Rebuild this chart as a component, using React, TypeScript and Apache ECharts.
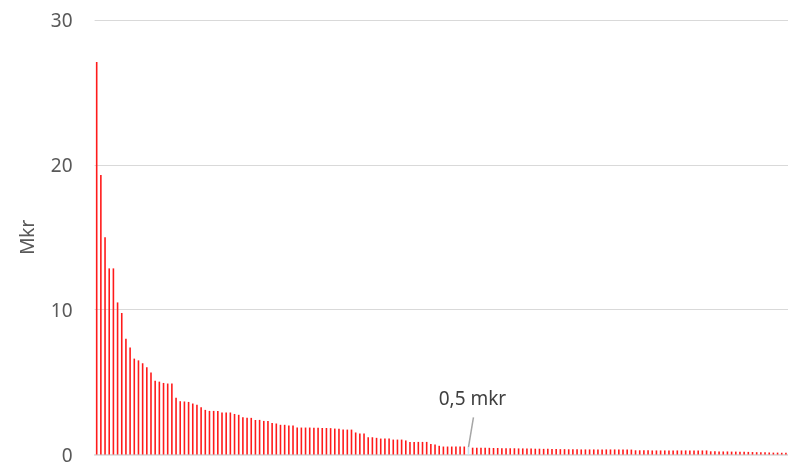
import React, { useEffect, useRef } from "react";
import * as echarts from "echarts";

const values: number[] = [
  27.1, 19.3, 15.0, 12.85, 12.85, 10.5, 9.77, 8.0, 7.38, 6.62,
  6.5, 6.3, 6.02, 5.66, 5.1, 5.03, 4.94, 4.9, 4.9, 3.91,
  3.68, 3.66, 3.63, 3.52, 3.43, 3.27, 3.08, 3.01, 3.01, 3.01,
  2.9, 2.9, 2.9, 2.8, 2.74, 2.57, 2.53, 2.53, 2.39, 2.39,
  2.32, 2.32, 2.18, 2.14, 2.05, 2.05, 2.0, 2.0, 1.86, 1.86,
  1.86, 1.86, 1.84, 1.84, 1.83, 1.83, 1.82, 1.79, 1.77, 1.72,
  1.72, 1.72, 1.52, 1.45, 1.45, 1.19, 1.19, 1.15, 1.1, 1.1,
  1.1, 1.03, 1.03, 1.03, 0.97, 0.87, 0.87, 0.87, 0.87, 0.87,
  0.72, 0.69, 0.6, 0.55, 0.55, 0.55, 0.55, 0.55, 0.55, 0.5,
  0.47, 0.47, 0.46, 0.46, 0.46, 0.45, 0.45, 0.44, 0.44, 0.43,
  0.43, 0.42, 0.42, 0.41, 0.41, 0.4, 0.4, 0.39, 0.39, 0.38,
  0.38, 0.37, 0.37, 0.36, 0.36, 0.36, 0.35, 0.35, 0.35, 0.35,
  0.35, 0.35, 0.35, 0.35, 0.35, 0.34, 0.34, 0.34, 0.34, 0.29,
  0.29, 0.29, 0.29, 0.28, 0.28, 0.28, 0.28, 0.28, 0.28, 0.28,
  0.28, 0.28, 0.28, 0.28, 0.28, 0.28, 0.28, 0.22, 0.22, 0.21,
  0.21, 0.21, 0.2, 0.2, 0.19, 0.19, 0.18, 0.17, 0.16, 0.16,
  0.15, 0.14, 0.13, 0.13, 0.12, 0.12,
];
const categories: string[] = values.map((_, i) => String(i + 1));
const yTicks = { min: 0, max: 30, interval: 10 };
const yName = "Mkr";
const annotationIndex = 89;
const annotationText = "0,5 mkr";

const FONT = '"Noto Sans", "Open Sans", sans-serif';

export default function App() {
  const ref = useRef<HTMLDivElement>(null);
  useEffect(() => {
    if (!ref.current) return;
    const chart = echarts.init(ref.current, undefined, { renderer: "svg" });
    const data = values.map((v, i) =>
      i === annotationIndex
        ? { value: v, itemStyle: { color: "#cfe0f0" } }
        : v
    );
    chart.setOption({
      animation: false,
      grid: { left: 94.6, right: 0, top: 20, bottom: 9, containLabel: false },
      xAxis: {
        type: "category",
        data: categories,
        axisLabel: { show: false },
        axisTick: { show: false },
        axisLine: { lineStyle: { color: "#d9d9d9", width: 1.5 } },
      },
      yAxis: {
        type: "value",
        min: yTicks.min,
        max: yTicks.max,
        interval: yTicks.interval,
        name: yName,
        nameLocation: "middle",
        nameGap: 58,
        nameTextStyle: { fontFamily: FONT, fontSize: 19, color: "#595959" },
        axisLabel: {
          fontFamily: FONT,
          fontSize: 19,
          lineHeight: 16,
          color: "#595959",
          margin: 22,
        },
        axisLine: { show: false },
        axisTick: { show: false },
        splitLine: { lineStyle: { color: "#d9d9d9", width: 1 } },
      },
      series: [
        {
          type: "bar",
          data,
          barWidth: 1.6,
          itemStyle: { color: "#ff1a1a" },
        },
      ],
    });
    const p = chart.convertToPixel({ gridIndex: 0 } as any, [
      annotationIndex,
      values[annotationIndex],
    ]) as number[];
    chart.setOption({
      graphic: [
        {
          type: "line",
          shape: { x1: p[0] + 5, y1: p[1] - 30, x2: p[0], y2: p[1] },
          style: { stroke: "#a6a6a6", lineWidth: 1.5 },
          silent: true,
        },
        {
          type: "text",
          x: p[0] + 4,
          y: p[1] - 49,
          style: {
            text: annotationText,
            fontFamily: FONT,
            fontSize: 19,
            fill: "#404040",
            align: "center",
            verticalAlign: "middle",
          },
          silent: true,
        },
      ],
    });
    return () => chart.dispose();
  }, []);
  return (
    <div
      ref={ref}
      style={{ position: "fixed", left: 0, top: 0, width: 788, height: 464 }}
    />
  );
}
